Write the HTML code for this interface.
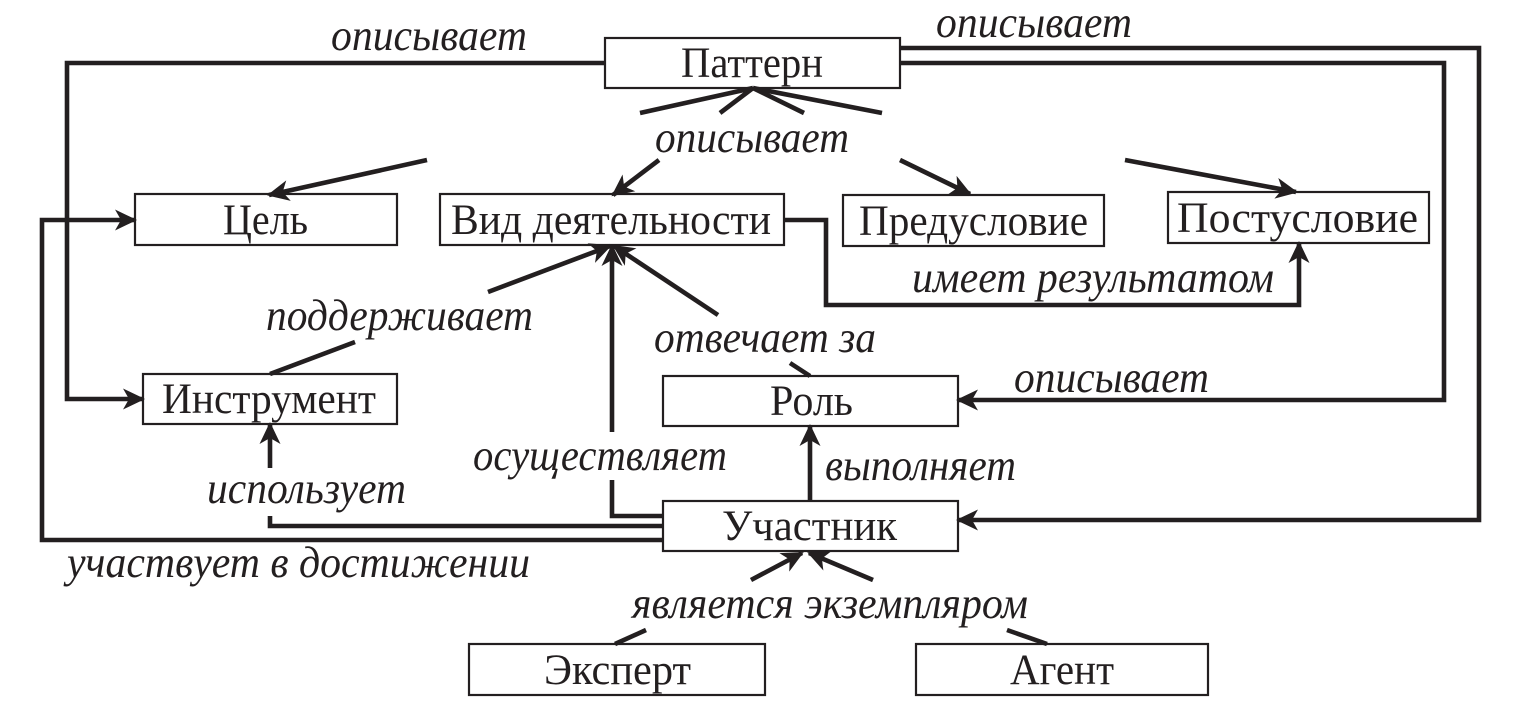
<!DOCTYPE html>
<html><head><meta charset="utf-8"><style>
html,body{margin:0;padding:0;background:#fff;}
svg{display:block;}
.bt{font-family:"Liberation Serif","DejaVu Serif",serif;font-size:43px;fill:#231f20;}
.lb{font-family:"Liberation Serif","DejaVu Serif",serif;font-size:44px;font-style:italic;fill:#231f20;}
.bx{fill:#fff;stroke:#231f20;stroke-width:2.2;}
.ln{fill:none;stroke:#231f20;stroke-width:4.6;stroke-linejoin:miter;}
</style></head><body>
<svg width="1518" height="720" viewBox="0 0 1518 720" xmlns="http://www.w3.org/2000/svg">
<defs>
<marker id="a" viewBox="-24 -12 28 24" refX="0" refY="0" markerWidth="28" markerHeight="24" markerUnits="userSpaceOnUse" orient="auto">
<path d="M2,0 L-20,-10.5 L-14,0 L-20,10.5 Z" fill="#231f20"/>
</marker>
</defs>

<!-- boxes -->
<rect class="bx" x="605" y="38" width="295" height="50"/>
<rect class="bx" x="135" y="194" width="262" height="51"/>
<rect class="bx" x="440" y="194" width="344" height="51"/>
<rect class="bx" x="843" y="195" width="261" height="51"/>
<rect class="bx" x="1168" y="192" width="261" height="51"/>
<rect class="bx" x="143" y="374" width="254" height="50"/>
<rect class="bx" x="663" y="376" width="295" height="50"/>
<rect class="bx" x="663" y="501" width="295" height="50"/>
<rect class="bx" x="469" y="644" width="296" height="51"/>
<rect class="bx" x="916" y="644" width="292" height="51"/>

<!-- connectors -->
<path class="ln" d="M605,63 H67 V399 H143" marker-end="url(#a)"/>
<path class="ln" d="M663,540 H42 V220 H135" marker-end="url(#a)"/>
<path class="ln" d="M663,526 H270 V516"/>
<path class="ln" d="M270,468 V424" marker-end="url(#a)"/>
<path class="ln" d="M753,88 L640,113"/>
<path class="ln" d="M427,160 L269,195" marker-end="url(#a)"/>
<path class="ln" d="M753,88 L720,113"/>
<path class="ln" d="M659,160 L613,195" marker-end="url(#a)"/>
<path class="ln" d="M753,88 L804,113"/>
<path class="ln" d="M900,160 L970,194" marker-end="url(#a)"/>
<path class="ln" d="M753,88 L882,113"/>
<path class="ln" d="M1125,160 L1296,192" marker-end="url(#a)"/>
<path class="ln" d="M270,374 L355,342"/>
<path class="ln" d="M488,292 L610,246" marker-end="url(#a)"/>
<path class="ln" d="M790,363 L810,376"/>
<path class="ln" d="M718,315 L614,246" marker-end="url(#a)"/>
<path class="ln" d="M663,516 H612 V480"/>
<path class="ln" d="M612,432 V246" marker-end="url(#a)"/>
<path class="ln" d="M810,501 V426" marker-end="url(#a)"/>
<path class="ln" d="M900,63 H1444 V400 H958" marker-end="url(#a)"/>
<path class="ln" d="M900,48 H1479 V520 H958" marker-end="url(#a)"/>
<path class="ln" d="M784,220 H826 V305 H1299 V243" marker-end="url(#a)"/>
<path class="ln" d="M615,644 L646,630"/>
<path class="ln" d="M751,580 L802,553" marker-end="url(#a)"/>
<path class="ln" d="M1047,644 L1007,630"/>
<path class="ln" d="M873,580 L809,553" marker-end="url(#a)"/>

<!-- box texts -->
<text class="bt" x="681" y="77" textLength="142" lengthAdjust="spacingAndGlyphs">Паттерн</text>
<text class="bt" x="223" y="234" textLength="85" lengthAdjust="spacingAndGlyphs">Цель</text>
<text class="bt" x="451" y="234" textLength="320" lengthAdjust="spacingAndGlyphs">Вид деятельности</text>
<text class="bt" x="859" y="235" textLength="229" lengthAdjust="spacingAndGlyphs">Предусловие</text>
<text class="bt" x="1177" y="232" textLength="241" lengthAdjust="spacingAndGlyphs">Постусловие</text>
<text class="bt" x="162" y="413" textLength="214" lengthAdjust="spacingAndGlyphs">Инструмент</text>
<text class="bt" x="770" y="415" textLength="83" lengthAdjust="spacingAndGlyphs">Роль</text>
<text class="bt" x="722" y="540" textLength="175" lengthAdjust="spacingAndGlyphs">Участник</text>
<text class="bt" x="544" y="684" textLength="147" lengthAdjust="spacingAndGlyphs">Эксперт</text>
<text class="bt" x="1010" y="684" textLength="104" lengthAdjust="spacingAndGlyphs">Агент</text>

<!-- labels -->
<text class="lb" x="331" y="50" textLength="196" lengthAdjust="spacingAndGlyphs">описывает</text>
<text class="lb" x="936" y="37" textLength="196" lengthAdjust="spacingAndGlyphs">описывает</text>
<text class="lb" x="655" y="152" textLength="194" lengthAdjust="spacingAndGlyphs">описывает</text>
<text class="lb" x="912" y="292" textLength="362" lengthAdjust="spacingAndGlyphs">имеет результатом</text>
<text class="lb" x="266" y="330" textLength="267" lengthAdjust="spacingAndGlyphs">поддерживает</text>
<text class="lb" x="654" y="352" textLength="222" lengthAdjust="spacingAndGlyphs">отвечает за</text>
<text class="lb" x="1014" y="392" textLength="195" lengthAdjust="spacingAndGlyphs">описывает</text>
<text class="lb" x="473" y="470" textLength="254" lengthAdjust="spacingAndGlyphs">осуществляет</text>
<text class="lb" x="825" y="480" textLength="191" lengthAdjust="spacingAndGlyphs">выполняет</text>
<text class="lb" x="207" y="503" textLength="199" lengthAdjust="spacingAndGlyphs">использует</text>
<text class="lb" x="67" y="577" textLength="463" lengthAdjust="spacingAndGlyphs">участвует в достижении</text>
<text class="lb" x="632" y="618" textLength="396" lengthAdjust="spacingAndGlyphs">является экземпляром</text>
</svg>
</body></html>
